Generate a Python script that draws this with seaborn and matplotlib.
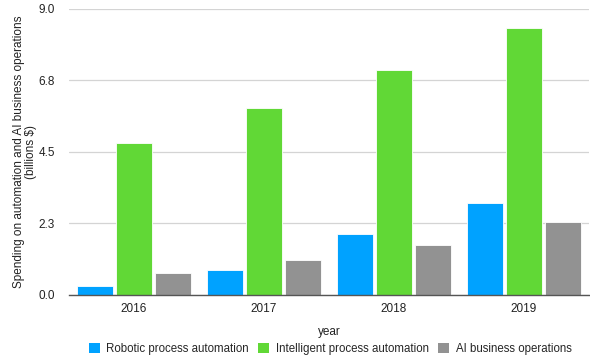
import numpy as np
import pandas as pd
import matplotlib
matplotlib.use("Agg")
import matplotlib.pyplot as plt
import seaborn as sns
from matplotlib.patches import Patch

years = ["2016", "2017", "2018", "2019"]
series_names = ["Robotic process automation", "Intelligent process automation", "AI business operations"]
robotic = [0.29, 0.78, 1.91, 2.89]
intelligent = [4.78, 5.88, 7.09, 8.39]
ai_ops = [0.68, 1.11, 1.58, 2.29]
y_ticks = [0.0, 2.25, 4.5, 6.75, 9.0]
y_tick_labels = ["0.0", "2.3", "4.5", "6.8", "9.0"]
colors = ["#00A2FF", "#61D836", "#929292"]

df = pd.DataFrame({
    "year": years * 3,
    "series": sum([[s] * len(years) for s in series_names], []),
    "value": robotic + intelligent + ai_ops,
})

sns.set_theme(style="white")
plt.rcParams["font.family"] = ["Liberation Sans", "DejaVu Sans"]

fig = plt.figure(figsize=(5.90, 3.57), dpi=100)
ax = fig.add_axes([0.117, 0.174, 0.881, 0.801])

sns.barplot(data=df, x="year", y="value", hue="series", hue_order=series_names,
            palette=colors, width=0.9, gap=0.08, saturation=1, ax=ax,
            edgecolor="white", linewidth=0.6, legend=False, errorbar=None)

ax.set_xlim(-0.5, 3.5)
ax.set_ylim(0, 9.0)
ax.set_yticks(y_ticks)
ax.set_yticklabels(y_tick_labels)
ax.yaxis.grid(True, color="#d4d4d4", linewidth=0.9)
ax.set_axisbelow(True)
for s in ["left", "right", "top"]:
    ax.spines[s].set_visible(False)
ax.spines["bottom"].set_color("#555555")
ax.spines["bottom"].set_linewidth(1.0)
ax.tick_params(axis="both", length=0, labelsize=8.5, colors="#222222")
ax.tick_params(axis="x", pad=6)
ax.tick_params(axis="y", pad=10)

ax.set_xlabel("year", fontsize=8.5, color="#222222", labelpad=8)
ax.set_ylabel("Spending on automation and AI business operations\n(billions $)",
              fontsize=8.5, color="#222222", labelpad=1, linespacing=1.05)

handles = [Patch(facecolor=c, edgecolor="none") for c in colors]
fig.legend(handles, series_names, loc="center", bbox_to_anchor=(0.56, 0.022),
           ncol=3, frameon=False, fontsize=8.3, handlelength=0.95, handleheight=1.0,
           handletextpad=0.6, columnspacing=0.8)

fig.savefig("out.png", dpi=100)
